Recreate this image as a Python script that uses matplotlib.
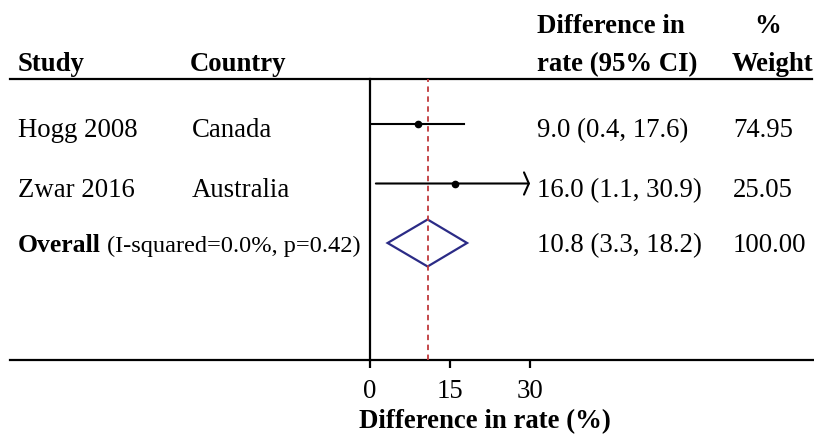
import matplotlib
matplotlib.use("Agg")
import matplotlib.pyplot as plt
from matplotlib.patches import Polygon

plt.rcParams['font.family'] = ['Liberation Serif', 'DejaVu Serif']

studies = ["Hogg 2008", "Zwar 2016"]
countries = ["Canada", "Australia"]
estimates = [9.0, 16.0]
ci_low = [0.4, 1.1]
ci_high = [17.6, 30.9]
weights = ["74.95", "25.05"]
overall_est = 10.8
overall_low = 3.3
overall_high = 18.2
overall_weight = "100.00"
overall_label = "(I-squared=0.0%, p=0.42)"
xticks = [0, 15, 30]

W, H = 814, 435
fig = plt.figure(figsize=(W / 100, H / 100), dpi=100)

# background axes in pixel coordinates
bg = fig.add_axes([0, 0, 1, 1])
bg.set_xlim(0, W)
bg.set_ylim(H, 0)
bg.axis('off')

fs = 19.3
bg.plot([10, 812], [80, 80], color='black', lw=1.6)
bg.plot([10, 814], [361, 361], color='black', lw=1.6)

bg.text(18, 71, "Study", fontsize=fs, fontweight='bold', va='baseline')
bg.text(190, 71, "Country", fontsize=fs, fontweight='bold', va='baseline')
bg.text(537, 33, "Difference in", fontsize=fs, fontweight='bold', va='baseline')
bg.text(537, 71, "rate (95% CI)", fontsize=fs, fontweight='bold', va='baseline')
bg.text(768, 33, "%", fontsize=fs, fontweight='bold', va='baseline', ha='center')
bg.text(772, 71, "Weight", fontsize=fs, fontweight='bold', va='baseline', ha='center')

row_y = [137, 197]
for i in range(len(studies)):
    bg.text(18, row_y[i], studies[i], fontsize=fs, va='baseline')
    bg.text(192, row_y[i], countries[i], fontsize=fs, va='baseline')
    bg.text(537, row_y[i], f"{estimates[i]:.1f} ({ci_low[i]:.1f}, {ci_high[i]:.1f})",
            fontsize=fs, va='baseline')
    bg.text(733, row_y[i], weights[i], fontsize=fs, va='baseline')

bg.text(18, 252, "Overall", fontsize=18.5, fontweight='bold', va='baseline')
bg.text(107, 252, overall_label, fontsize=17.6, va='baseline')
bg.text(537, 252, f"{overall_est:.1f} ({overall_low:.1f}, {overall_high:.1f})",
        fontsize=fs, va='baseline')
bg.text(733, 252, overall_weight, fontsize=fs, va='baseline')

bg.text(485, 428, "Difference in rate (%)", fontsize=fs, fontweight='bold',
        va='baseline', ha='center')

# forest axes: x 0..30 spans px 370..530, y px 80..361
ax = fig.add_axes([370 / W, 1 - 361 / H, 160 / W, (361 - 80) / H])
ax.set_xlim(0, 30)
sp = 59.5
ax.set_ylim(1 + (361 - 125) / sp, 1 - (125 - 80) / sp)
ax.patch.set_visible(False)
for s in ['top', 'right', 'bottom']:
    ax.spines[s].set_visible(False)
ax.spines['left'].set_linewidth(1.6)
ax.set_yticks([])
ax.set_xticks(xticks)
ax.set_xticklabels([str(t) for t in xticks], fontsize=fs)
ax.tick_params(axis='x', direction='out', length=6, width=1.6, pad=7)

ax.axvline(overall_est, color='#c0393b', ls=(0, (3, 2.5)), lw=1.3)

ys = [1, 2]
for i in range(len(studies)):
    hi = min(ci_high[i], 30)
    if ci_high[i] > 30:
        ax.annotate("", xy=(30, ys[i]), xytext=(ci_low[i], ys[i]),
                    arrowprops=dict(arrowstyle='->,head_length=0.35,head_width=0.8',
                                    lw=1.5, color='black',
                                    shrinkA=0, shrinkB=0),
                    annotation_clip=False)
    else:
        ax.plot([ci_low[i], hi], [ys[i], ys[i]], color='black', lw=1.5)
    ax.plot(estimates[i], ys[i], 'o', color='black', ms=4.5)

dh = 0.395
diamond = Polygon([(overall_low, 3), (overall_est, 3 - dh), (overall_high, 3),
                   (overall_est, 3 + dh)], closed=True, fill=False,
                  edgecolor='#2b2b86', lw=1.6)
ax.add_patch(diamond)

fig.savefig("out.png", dpi=100)
